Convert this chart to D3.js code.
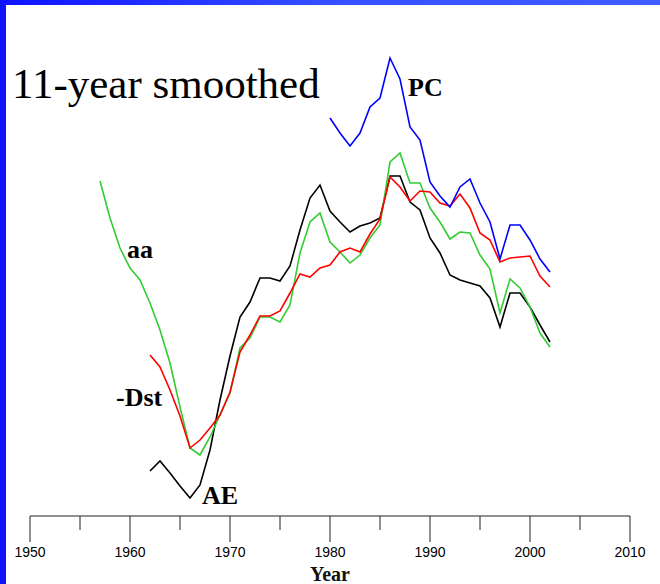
<!DOCTYPE html>
<html>
<head>
<meta charset="utf-8">
<script src="https://cdn.jsdelivr.net/npm/d3@7"></script>
<style>
  html, body { margin: 0; padding: 0; background: #fff; }
  svg { display: block; }
</style>
</head>
<body>
<svg id="chart" width="660" height="584"></svg>
<script>
// Geomagnetic activity indices, 11-year running means (relative units)
const aaYears = d3.range(1957, 2003);
const aaValues = [
  67.8, 60.4, 54.4, 50.4, 48.0,
  43.4, 38.0, 31.4, 22.6, 14.4,
  13.0, 16.6, 21.0, 25.4, 34.4,
  36.4, 40.6, 40.6, 39.6, 43.0,
  53.4, 59.6, 61.4, 55.6, 53.6,
  51.4, 53.0, 56.4, 59.0, 71.6,
  73.4, 67.4, 67.4, 62.4, 59.6,
  56.2, 57.6, 57.4, 53.0, 50.2,
  41.4, 48.2, 46.4, 42.6, 37.4,
  34.6
];

const dstYears = d3.range(1962, 2003);
const dstValues = [
  33.0, 30.6, 26.0, 20.8, 14.4,
  16.0, 18.4, 21.0, 25.6, 33.6,
  37.0, 40.8, 40.8, 41.8, 45.4,
  49.2, 48.6, 50.4, 51.0, 53.6,
  54.4, 53.6, 57.2, 60.2, 68.6,
  66.6, 63.8, 65.8, 65.6, 63.4,
  62.8, 65.2, 62.4, 57.4, 56.0,
  51.6, 52.4, 52.6, 52.8, 48.8,
  46.6
];

const aeYears = d3.range(1962, 2003);
const aeValues = [
  9.8, 11.8, 9.4, 6.8, 4.4,
  7.0, 14.0, 24.0, 32.8, 40.6,
  43.6, 48.4, 48.4, 47.8, 50.8,
  58.0, 64.4, 67.0, 61.8, 59.6,
  57.6, 58.8, 59.4, 60.4, 68.8,
  68.8, 63.6, 62.0, 56.4, 53.4,
  49.0, 48.0, 47.4, 46.8, 44.4,
  38.6, 45.4, 45.4, 42.6, 39.0,
  35.6
];

const pcYears = d3.range(1980, 2003);
const pcValues = [
  80.4, 77.4, 74.8, 77.4, 82.6,
  84.4, 92.4, 88.2, 78.6, 76.0,
  67.6, 64.8, 62.6, 66.6, 68.2,
  63.4, 59.6, 52.2, 59.0, 59.0,
  56.0, 52.2, 49.6
];

const majorTicks = [1950, 1960, 1970, 1980, 1990, 2000, 2010];
const minorTicks = [1955, 1965, 1975, 1985, 1995, 2005];

const svg = d3.select("#chart");
const W = 660, H = 584;

// Slide frame: blue bars along the top and left edges
const defs = svg.append("defs");
const grad = defs.append("linearGradient").attr("id", "topbar")
  .attr("x1", "0%").attr("x2", "100%").attr("y1", "0%").attr("y2", "0%");
grad.append("stop").attr("offset", "0%").attr("stop-color", "#0f12ff");
grad.append("stop").attr("offset", "50%").attr("stop-color", "#3550ff");
grad.append("stop").attr("offset", "100%").attr("stop-color", "#3e5dff");
svg.append("rect").attr("x", 0).attr("y", 0).attr("width", W).attr("height", 5)
  .attr("fill", "url(#topbar)");
svg.append("rect").attr("x", 0).attr("y", 0).attr("width", 6).attr("height", H)
  .attr("fill", "#0f12ff");

const x = d3.scaleLinear().domain([1950, 2010]).range([30, 630]);
const y = d3.scaleLinear().domain([0, 100]).range([520, 20]);

// Bottom year axis
const axisY = 516;
const axisG = svg.append("g").attr("transform", `translate(0,${axisY})`);
axisG.append("line")
  .attr("x1", x(1950)).attr("x2", x(2010)).attr("y1", 0).attr("y2", 0)
  .attr("stroke", "#222").attr("stroke-width", 1);
axisG.selectAll("line.major").data(majorTicks).join("line")
  .attr("class", "major")
  .attr("x1", d => x(d)).attr("x2", d => x(d)).attr("y1", 0).attr("y2", 26)
  .attr("stroke", "#222").attr("stroke-width", 1);
axisG.selectAll("line.minor").data(minorTicks).join("line")
  .attr("class", "minor")
  .attr("x1", d => x(d)).attr("x2", d => x(d)).attr("y1", 0).attr("y2", 14)
  .attr("stroke", "#222").attr("stroke-width", 1);
axisG.selectAll("text.tick").data(majorTicks).join("text")
  .attr("class", "tick")
  .attr("x", d => x(d)).attr("y", 41)
  .attr("text-anchor", "middle")
  .attr("font-family", "Liberation Sans, Arial, sans-serif")
  .attr("font-size", 14)
  .attr("fill", "#000")
  .text(d => d);

svg.append("text")
  .attr("x", 330).attr("y", 581)
  .attr("text-anchor", "middle")
  .attr("font-family", "Liberation Serif, Times New Roman, serif")
  .attr("font-weight", "bold")
  .attr("font-size", 20)
  .attr("fill", "#111")
  .text("Year");

// Index curves
const series = [
  { name: "AE",  years: aeYears,  values: aeValues,  color: "#000000" },
  { name: "aa",  years: aaYears,  values: aaValues,  color: "#33cc33" },
  { name: "-Dst", years: dstYears, values: dstValues, color: "#ff0000" },
  { name: "PC",  years: pcYears,  values: pcValues,  color: "#0000ff" }
];

const line = d3.line()
  .x(d => x(d[0]))
  .y(d => y(d[1]));

svg.selectAll("path.series").data(series).join("path")
  .attr("class", "series")
  .attr("d", s => line(s.years.map((yr, i) => [yr, s.values[i]])))
  .attr("fill", "none")
  .attr("stroke", s => s.color)
  .attr("stroke-width", 1.6)
  .attr("stroke-linejoin", "miter");

// Curve names
const labels = [
  { text: "PC",   x: 408, y: 96 },
  { text: "aa",   x: 127, y: 258 },
  { text: "-Dst", x: 116, y: 406 },
  { text: "AE",   x: 202, y: 504 }
];
svg.selectAll("text.name").data(labels).join("text")
  .attr("class", "name")
  .attr("x", d => d.x).attr("y", d => d.y)
  .attr("font-family", "Liberation Serif, Times New Roman, serif")
  .attr("font-weight", "bold")
  .attr("font-size", 26)
  .attr("fill", "#000")
  .text(d => d.text);

// Title
svg.append("text")
  .attr("x", 12).attr("y", 98)
  .attr("font-family", "Liberation Serif, Times New Roman, serif")
  .attr("font-size", 43)
  .attr("fill", "#000")
  .text("11-year smoothed");
</script>
</body>
</html>
